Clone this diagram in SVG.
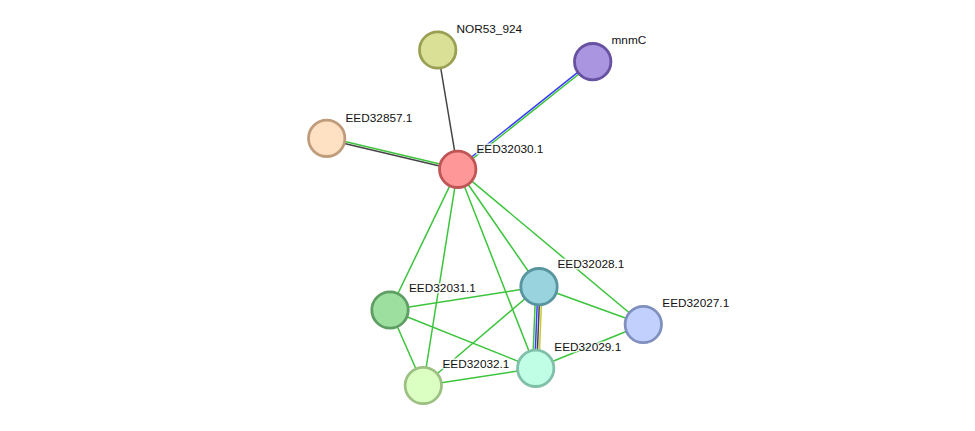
<svg xmlns="http://www.w3.org/2000/svg" width="975" height="431" viewBox="0 0 975 431">
<style>
.e{stroke-width:1.5;fill:none}
.g{stroke:#3cc43c}
.b{stroke:#3a3aff}
.k{stroke:#444444}
.y{stroke:#c8c83a}
.n circle{stroke-width:2.8}
text{font-family:"Liberation Sans",Arial,sans-serif;font-size:11.8px;fill:#111;stroke:#fff;stroke-width:3;stroke-opacity:0.8;paint-order:stroke;stroke-linejoin:round}
</style>
<rect width="975" height="431" fill="#fff"/>
<g id="edges">
<line class="e k" x1="437.7" y1="50" x2="457.7" y2="169.3"/>
<line class="e b" x1="592.1" y1="60.9" x2="457.1" y2="168.5"/>
<line class="e g" x1="593.3" y1="62.5" x2="458.3" y2="170.1"/>
<line class="e g" x1="326.9" y1="137.3" x2="457.9" y2="168.3"/>
<line class="e k" x1="326.5" y1="139.3" x2="457.5" y2="170.3"/>
<line class="e g" x1="457.7" y1="169.3" x2="390" y2="310"/>
<line class="e g" x1="457.7" y1="169.3" x2="423.3" y2="385.5"/>
<line class="e g" x1="457.7" y1="169.3" x2="535.7" y2="368.3"/>
<line class="e g" x1="457.7" y1="169.3" x2="539" y2="286.7"/>
<line class="e g" x1="457.7" y1="169.3" x2="643.3" y2="324.5"/>
<line class="e g" x1="390" y1="310" x2="539" y2="286.7"/>
<line class="e g" x1="390" y1="310" x2="535.7" y2="368.3"/>
<line class="e g" x1="390" y1="310" x2="423.3" y2="385.5"/>
<line class="e g" x1="423.3" y1="385.5" x2="539" y2="286.7"/>
<line class="e g" x1="423.3" y1="385.5" x2="535.7" y2="368.3"/>
<line class="e g" x1="539" y1="286.7" x2="643.3" y2="324.5"/>
<line class="e g" x1="535.7" y1="368.3" x2="643.3" y2="324.5"/>
<line class="e g" x1="535.8" y1="286.7" x2="532.5" y2="368.3"/>
<line class="e b" x1="537.9" y1="286.7" x2="534.6" y2="368.3"/>
<line class="e k" x1="540" y1="286.7" x2="536.7" y2="368.3"/>
<line class="e y" x1="542.1" y1="286.7" x2="538.8" y2="368.3"/>
</g>
<g id="NOR53_924" class="n"><circle cx="437.7" cy="50" r="18.2" fill="#dbe097" stroke="#9a9f52"/><text x="456.5" y="33">NOR53_924</text></g>
<g id="mnmC" class="n"><circle cx="592.7" cy="61.7" r="18.2" fill="#a995e0" stroke="#6652a0"/><text x="611.5" y="44">mnmC</text></g>
<g id="EED32857.1" class="n"><circle cx="326.7" cy="138.3" r="18.2" fill="#fee0c2" stroke="#bf9d7c"/><text x="345.5" y="121.5">EED32857.1</text></g>
<g id="EED32030.1" class="n"><circle cx="457.7" cy="169.3" r="18.2" fill="#fe9898" stroke="#bf5555"/><text x="476.5" y="152.7">EED32030.1</text></g>
<g id="EED32031.1" class="n"><circle cx="390" cy="310" r="18.2" fill="#9ddf9f" stroke="#5e9e62"/><text x="409" y="291.7">EED32031.1</text></g>
<g id="EED32028.1" class="n"><circle cx="539" cy="286.7" r="18.2" fill="#98d3de" stroke="#5995a0"/><text x="557.5" y="267.5">EED32028.1</text></g>
<g id="EED32027.1" class="n"><circle cx="643.3" cy="324.5" r="18.2" fill="#c1d0fc" stroke="#7f90bf"/><text x="662.3" y="307">EED32027.1</text></g>
<g id="EED32029.1" class="n"><circle cx="535.7" cy="368.3" r="18.2" fill="#c1fee6" stroke="#80bfa8"/><text x="554.3" y="350.7">EED32029.1</text></g>
<g id="EED32032.1" class="n"><circle cx="423.3" cy="385.5" r="18.2" fill="#dbffc2" stroke="#9cbf82"/><text x="442.5" y="367.7">EED32032.1</text></g>
</svg>
